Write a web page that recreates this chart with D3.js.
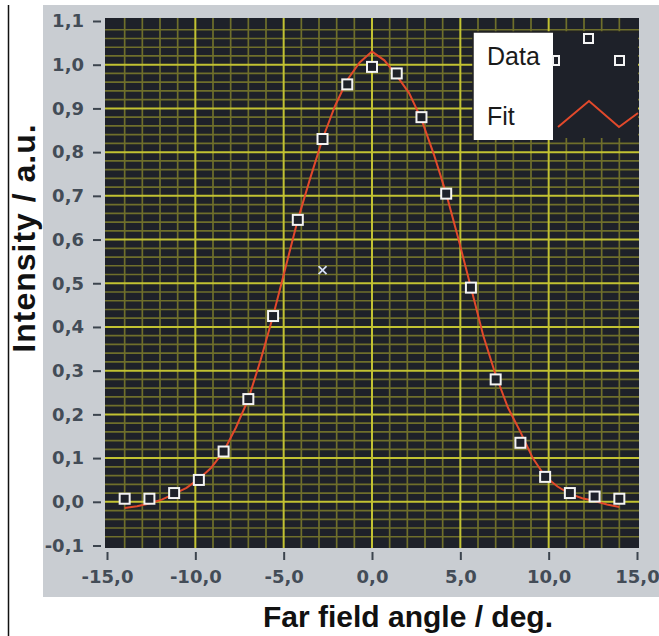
<!DOCTYPE html>
<html>
<head>
<meta charset="utf-8">
<script src="https://cdn.jsdelivr.net/npm/d3@7"></script>
<style>
  body { margin: 0; background: #fff; }
  svg { display: block; }
</style>
</head>
<body>
<div id="chart"></div>
<script>
// measured points (deg, a.u.)
const dataX = [-14.0, -12.6, -11.2, -9.8, -8.4, -7.0, -5.6, -4.2, -2.8, -1.4, 0.0,
               1.4, 2.8, 4.2, 5.6, 7.0, 8.4, 9.8, 11.2, 12.6, 14.0];
const dataY = [0.007, 0.007, 0.02, 0.05, 0.115, 0.235, 0.425, 0.645, 0.83, 0.955, 0.995,
               0.98, 0.88, 0.705, 0.49, 0.28, 0.135, 0.057, 0.02, 0.012, 0.007];

// fit curve
const fitX = [-14.0, -13.3, -12.6, -11.9, -11.2, -10.5, -9.8, -9.1, -8.4, -7.7, -7.0,
              -6.3, -5.6, -4.9, -4.2, -3.5, -2.8, -2.1, -1.4, -0.7, 0.0,
              0.7, 1.4, 2.1, 2.8, 3.5, 4.2, 4.9, 5.6, 6.3, 7.0,
              7.7, 8.4, 9.1, 9.8, 10.5, 11.2, 11.9, 12.6, 13.3, 14.0];
const fitY = [-0.014, -0.01, -0.004, 0.005, 0.018, 0.032, 0.052, 0.078, 0.115, 0.17, 0.235,
              0.325, 0.425, 0.535, 0.645, 0.74, 0.83, 0.905, 0.965, 1.005, 1.03,
              1.01, 0.975, 0.935, 0.875, 0.795, 0.705, 0.6, 0.49, 0.38, 0.29,
              0.215, 0.16, 0.1, 0.058, 0.035, 0.018, 0.008, 0.002, -0.006, -0.012];

// cursor marker
const cursorX = -2.8, cursorY = 0.53;

const xTicks = [-15, -10, -5, 0, 5, 10, 15];
const yTicks = [-0.1, 0.0, 0.1, 0.2, 0.3, 0.4, 0.5, 0.6, 0.7, 0.8, 0.9, 1.0, 1.1];
const legendLabels = ["Data", "Fit"];

const width = 659, height = 636;
const plot = { left: 105, right: 639, top: 18, bottom: 548 };

const fmt = v => d3.format(".1f")(v).replace(".", ",").replace("−", "-");

const svg = d3.select("#chart").append("svg")
    .attr("width", width)
    .attr("height", height);

// frame line on the left + grey panel
svg.append("line")
    .attr("x1", 8.5).attr("x2", 8.5).attr("y1", 5).attr("y2", height)
    .style("stroke", "#111").style("stroke-width", 1.5);

svg.append("rect")
    .attr("x", 43).attr("y", 5).attr("width", width - 43).attr("height", 592)
    .style("fill", "#c9cdd2");

let x = d3.scaleLinear().domain([-15, 15]).range([107, 637]);
let y = d3.scaleLinear().domain([-0.1, 1.1]).range([545.5, 21]);

svg.append("rect")
    .attr("x", plot.left).attr("y", plot.top)
    .attr("width", plot.right - plot.left).attr("height", plot.bottom - plot.top)
    .style("fill", "#1e2129");

// grid
let grid = svg.append("g").attr("class", "grid");
let minorX = d3.range(-14, 15, 1).filter(d => d % 5 !== 0);
let minorY = d3.range(-0.08, 1.1, 0.02).filter(d => Math.abs(Math.round(d * 10) - d * 10) > 0.05);

grid.selectAll(".vminor").data(minorX).enter().append("line")
    .attr("x1", d => x(d)).attr("x2", d => x(d))
    .attr("y1", plot.top).attr("y2", plot.bottom)
    .style("stroke", "#6f6f2b").style("stroke-width", 1.7);

grid.selectAll(".hminor").data(minorY).enter().append("line")
    .attr("y1", d => y(d)).attr("y2", d => y(d))
    .attr("x1", plot.left).attr("x2", plot.right)
    .style("stroke", "#6f6f2b").style("stroke-width", 1.7);

grid.selectAll(".vmajor").data(xTicks.slice(1, -1)).enter().append("line")
    .attr("x1", d => x(d)).attr("x2", d => x(d))
    .attr("y1", plot.top).attr("y2", plot.bottom)
    .style("stroke", "#c2c232").style("stroke-width", 2);

grid.selectAll(".hmajor").data(yTicks.slice(1, -1)).enter().append("line")
    .attr("y1", d => y(d)).attr("y2", d => y(d))
    .attr("x1", plot.left).attr("x2", plot.right)
    .style("stroke", "#c2c232").style("stroke-width", 2);

// axes
let xAxis = d3.axisBottom(x).tickValues(xTicks).tickSize(8).tickPadding(6).tickFormat(fmt);
let yAxis = d3.axisLeft(y).tickValues(yTicks).tickSize(8).tickPadding(9).tickFormat(fmt);

let gx = svg.append("g").attr("transform", "translate(0," + (plot.bottom + 4) + ")").call(xAxis);
let gy = svg.append("g").attr("transform", "translate(" + (plot.left - 4) + ",0)").call(yAxis);

[gx, gy].forEach(g => {
    g.select(".domain").remove();
    g.selectAll("line").style("stroke", "#3c444e").style("stroke-width", 2);
    g.selectAll("text")
        .style("font-family", "DejaVu Sans")
        .style("font-weight", "bold")
        .style("font-size", "18px")
        .style("fill", "#434c57");
});
gx.selectAll("text").attr("dy", "0.95em");

// fit line
let line = d3.line().x(d => x(d[0])).y(d => y(d[1]));
svg.append("path")
    .datum(d3.zip(fitX, fitY))
    .attr("d", line)
    .style("fill", "none")
    .style("stroke", "#e2492b")
    .style("stroke-width", 2);

// data markers
svg.append("g").selectAll("rect")
    .data(d3.zip(dataX, dataY))
    .enter().append("rect")
    .attr("x", d => x(d[0]) - 5)
    .attr("y", d => y(d[1]) - 5)
    .attr("width", 10).attr("height", 10)
    .style("fill", "#1e2129")
    .style("stroke", "#f4f4f4")
    .style("stroke-width", 2);

// cursor cross
let cx = x(cursorX), cy = y(cursorY);
svg.append("path")
    .attr("d", `M${cx - 4},${cy - 4}L${cx + 4},${cy + 4}M${cx - 4},${cy + 4}L${cx + 4},${cy - 4}`)
    .style("stroke", "#d4def4").style("stroke-width", 1.8);

// legend
let lg = svg.append("g").attr("class", "legend");
lg.append("rect")
    .attr("x", 473).attr("y", 32).attr("width", 80).attr("height", 108)
    .style("fill", "#fff");
lg.append("rect")
    .attr("x", 553).attr("y", 32).attr("width", 85).attr("height", 106)
    .style("fill", "#1e2129");
lg.append("path")
    .attr("d", "M473,140V32H638")
    .style("fill", "none").style("stroke", "#222").style("stroke-width", 1.5);

lg.selectAll("text").data(legendLabels).enter().append("text")
    .attr("x", 487)
    .attr("y", (d, i) => 65 + i * 60)
    .text(d => d)
    .style("font-family", "Liberation Sans, Arial, sans-serif")
    .style("font-size", "25px")
    .style("fill", "#1a1a1a");

[[553, 56, 6], [584, 34, 9], [615, 56, 9]].forEach(p => {
    lg.append("rect")
        .attr("x", p[0]).attr("y", p[1]).attr("width", p[2]).attr("height", 9)
        .style("fill", "#1e2129")
        .style("stroke", "#f4f4f4").style("stroke-width", 2);
});
lg.append("path")
    .attr("d", "M558,127L589,101L619,127L638,113")
    .style("fill", "none").style("stroke", "#e2492b").style("stroke-width", 2);

// axis titles
svg.append("text")
    .attr("x", 408).attr("y", 627)
    .attr("text-anchor", "middle")
    .text("Far field angle / deg.")
    .style("font-family", "Liberation Sans, Arial, sans-serif")
    .style("font-weight", "bold")
    .style("font-size", "30px")
    .style("fill", "#111");

svg.append("text")
    .attr("transform", "translate(35,238) rotate(-90)")
    .attr("text-anchor", "middle")
    .text("Intensity / a.u.")
    .style("font-family", "Liberation Sans, Arial, sans-serif")
    .style("font-weight", "bold")
    .style("font-size", "32px")
    .style("letter-spacing", "1px")
    .style("fill", "#111");
</script>
</body>
</html>
